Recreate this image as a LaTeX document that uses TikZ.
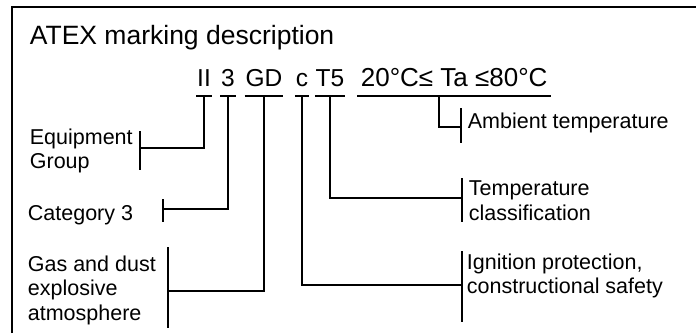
\documentclass[tikz,border=0pt]{standalone}
\usepackage{fontspec}
\setmainfont{Liberation Sans}
\usetikzlibrary{calc,positioning}

\begin{document}
\begin{tikzpicture}[x=1pt, y=-1pt, line width=1.8pt,
  title/.style={font=\fontsize{26.5}{30}\selectfont, inner sep=0pt, anchor=base west},
  code/.style={font=\fontsize{24.5}{28}\selectfont, inner sep=0pt, anchor=base},
  lbl/.style={font=\fontsize{21.5}{24.5}\selectfont, inner sep=0pt, anchor=north west, align=left}]
  \useasboundingbox (0,0) rectangle (696,333);
  \draw (12,333) -- (12,7) -- (696,7);
  \node[title] (head) at (29,44) {ATEX marking description};
  % marking
  \node[code] (ii) at (204,86) {II};
  \node[code] (three) at (228,86) {3};
  \node[code] (gd) at (264,86) {GD};
  \node[code] (c) at (302,86) {c};
  \node[code] (t5) at (330,86) {T5};
  \node[code, font=\fontsize{26}{28}\selectfont, anchor=base west] (ta) at (360,86) {20°C≤ Ta ≤80°C};
  \foreach \n in {ii,three,gd,c,t5} {
    \draw ([yshift=-10pt]\n.base west) -- ([yshift=-10pt]\n.base east);
    \coordinate (\n-b) at ([yshift=-10pt]\n.base);
  }
  \draw ([yshift=-10pt,xshift=-3pt]ta.base west) -- ([yshift=-10pt,xshift=3pt]ta.base east);
  \coordinate (ta-b) at (439,96);
  % labels
  \node[lbl] (equip) at (29,128) {Equipment\\Group};
  \node[lbl] (cat) at (27,205) {Category 3};
  \node[lbl] (gas) at (27,255) {Gas and dust\\explosive\\atmosphere};
  \node[lbl] (amb) at (467,112) {Ambient temperature};
  \node[lbl] (temp) at (468,180) {Temperature\\classification};
  \node[lbl] (ign) at (466,253) {Ignition protection,\\constructional safety};
  % brackets
  \draw (140,131) -- (140,170) coordinate[pos=0.44] (equip-k);
  \draw (163,199) -- (163,222) coordinate[pos=0.43] (cat-k);
  \draw (168,247) -- (168,328) coordinate[pos=0.54] (gas-k);
  \draw (461,108) -- (461,143) coordinate[pos=0.54] (amb-k);
  \draw (462,178) -- (462,222) coordinate[pos=0.45] (temp-k);
  \draw (462,251) -- (462,322) coordinate[pos=0.48] (ign-k);
  % connectors
  \draw (ii-b) |- (equip-k);
  \draw (three-b) |- (cat-k);
  \draw (gd-b) |- (gas-k);
  \draw (c-b) |- (ign-k);
  \draw (t5-b) |- (temp-k);
  \draw (ta-b) |- (amb-k);
\end{tikzpicture}
\end{document}
